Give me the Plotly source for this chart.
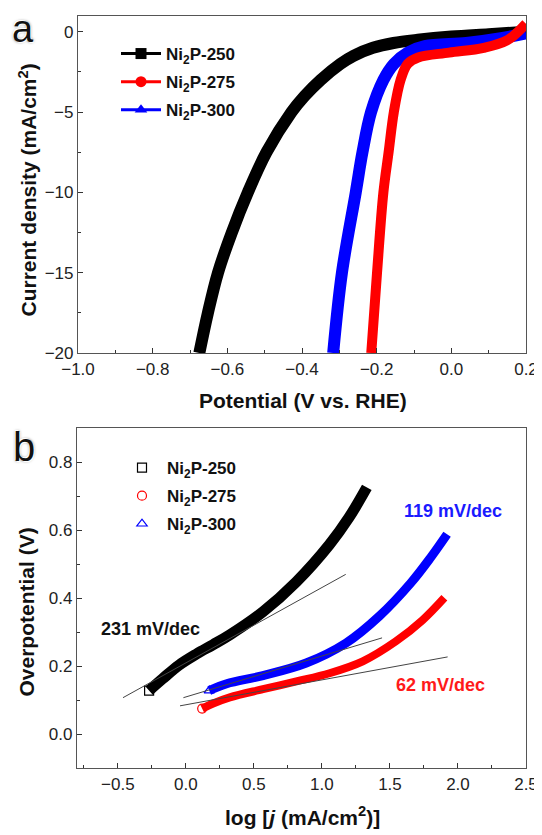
import plotly.graph_objects as go

# ---------- Panel a: polarization curves ----------
V250 = [-0.675, -0.652, -0.625, -0.588, -0.545, -0.495, -0.428, -0.393, -0.35, -0.297, -0.262, -0.21, -0.155, -0.09, 0.0, 0.1, 0.2]
J250 = [-20, -17.5, -15, -12.5, -10, -7.5, -5, -4, -3, -2, -1.5, -1.0, -0.7, -0.5, -0.3, -0.15, 0.0]

V275 = [-0.2145, -0.199, -0.182, -0.168, -0.154, -0.136, -0.117, -0.089, -0.006, 0.087, 0.152, 0.2]
J275 = [-20, -15, -10, -7.5, -5, -3, -2, -1.6, -1.3, -1.0, -0.5, 0.5]

V300 = [-0.3165, -0.293, -0.256, -0.238, -0.215, -0.182, -0.154, -0.117, -0.071, 0.04, 0.133, 0.2]
J300 = [-20, -15, -10, -7.5, -5, -3, -2, -1.3, -0.9, -0.7, -0.4, -0.1]

# ---------- Panel b: Tafel plots ----------
T250_x = [-0.27, -0.17, -0.05, 0.08, 0.2, 0.323, 0.567, 0.812, 1.056, 1.2, 1.33]
T250_y = [0.128, 0.163, 0.203, 0.236, 0.263, 0.292, 0.36, 0.448, 0.558, 0.638, 0.726]
T275_x = [0.12, 0.2, 0.323, 0.567, 0.812, 1.056, 1.3, 1.544, 1.739, 1.9]
T275_y = [0.075, 0.09, 0.108, 0.132, 0.155, 0.179, 0.214, 0.273, 0.335, 0.401]
T300_x = [0.172, 0.3, 0.567, 0.885, 1.178, 1.422, 1.654, 1.8, 1.92]
T300_y = [0.128, 0.148, 0.172, 0.209, 0.268, 0.347, 0.445, 0.52, 0.588]

F250_x = [-0.462, 1.175]
F250_y = [0.107, 0.47]
F275_x = [-0.043, 1.924]
F275_y = [0.083, 0.227]
F300_x = [-0.018, 1.442]
F300_y = [0.107, 0.283]

names = ["<b>Ni<sub>2</sub>P-250</b>", "<b>Ni<sub>2</sub>P-275</b>", "<b>Ni<sub>2</sub>P-300</b>"]
colors = ["#000000", "#ff0000", "#0000ff"]
sym_a = ["square", "circle", "triangle-up"]
sym_b = ["square-open", "circle-open", "triangle-up-open"]
FONT = "Arial, Liberation Sans, sans-serif"

# page has an 8px body margin: figure is sized to fit and positions given in page pixels
OFF = 8
W, H = 542 - OFF, 835 - OFF
def fx(p):
    return (p - OFF) / W
def fy(p):
    return 1 - (p - OFF) / H

fig = go.Figure()

# Panel a curves
for V, J, c, w in [(V250, J250, colors[0], 12), (V300, J300, colors[2], 12), (V275, J275, colors[1], 10)]:
    fig.add_trace(go.Scatter(x=V, y=J, mode="lines", line=dict(color=c, width=w, shape="spline", smoothing=1.0),
                             showlegend=False, xaxis="x", yaxis="y", hoverinfo="skip"))
for i, (n, c, s) in enumerate(zip(names, colors, sym_a)):
    fig.add_trace(go.Scatter(x=[None], y=[None], mode="lines+markers", name=n, legendgroup="a%d" % i,
                             line=dict(color=c, width=3), marker=dict(symbol=s, size=11, color=c),
                             xaxis="x", yaxis="y", legend="legend"))

# Panel b bands
for X, Y, c, w, s in [(T250_x, T250_y, colors[0], 11, sym_b[0]), (T300_x, T300_y, colors[2], 9, sym_b[2]),
                      (T275_x, T275_y, colors[1], 8, sym_b[1])]:
    fig.add_trace(go.Scatter(x=X, y=Y, mode="lines", line=dict(color=c, width=w, shape="spline", smoothing=1.0),
                             showlegend=False, xaxis="x2", yaxis="y2", hoverinfo="skip"))
    fig.add_trace(go.Scatter(x=X[:1], y=Y[:1], mode="markers", marker=dict(symbol=s, size=9, color=c, line=dict(width=1.2)),
                             showlegend=False, xaxis="x2", yaxis="y2", hoverinfo="skip"))
for X, Y in [(F250_x, F250_y), (F275_x, F275_y), (F300_x, F300_y)]:
    fig.add_trace(go.Scatter(x=X, y=Y, mode="lines", line=dict(color="#444444", width=1),
                             showlegend=False, xaxis="x2", yaxis="y2", hoverinfo="skip"))
for i, (n, c, s) in enumerate(zip(names, colors, sym_b)):
    fig.add_trace(go.Scatter(x=[None], y=[None], mode="markers", name=n, legendgroup="b%d" % i,
                             marker=dict(symbol=s, size=9, color=c, line=dict(width=1.2)),
                             xaxis="x2", yaxis="y2", legend="legend2"))

axcommon = dict(showline=True, linecolor="#555555", linewidth=1.2, mirror=True, ticks="inside",
                ticklen=5, tickcolor="#333333", tickwidth=1, showgrid=False, zeroline=False, automargin=False,
                tickfont=dict(family=FONT, size=17, color="#222222"))
minor = lambda d: dict(dtick=d, ticks="inside", ticklen=3, tickcolor="#333333")

fig.update_layout(
    width=W, height=H, margin=dict(l=0, r=0, t=0, b=0, autoexpand=False),
    paper_bgcolor="white", plot_bgcolor="white",
    font=dict(family=FONT, color="#111111"),
    xaxis=dict(domain=[fx(78), fx(526)], anchor="y", range=[-1.0, 0.2], dtick=0.2, tickformat=".1f",
               minor=minor(0.1), **axcommon),
    yaxis=dict(domain=[fy(353), fy(15.7)], anchor="x", range=[-20, 1.0], tickvals=[0, -5, -10, -15, -20],
               minor=minor(2.5), **axcommon),
    xaxis2=dict(domain=[fx(77), fx(526)], anchor="y2", range=[-0.8, 2.5], dtick=0.5, tickformat=".1f",
                minor=minor(0.25), **axcommon),
    yaxis2=dict(domain=[fy(768), fy(428.3)], anchor="x2", range=[-0.1, 0.9], tickvals=[0, 0.2, 0.4, 0.6, 0.8],
                tickformat=".1f", minor=minor(0.1), **axcommon),
    legend=dict(x=fx(116), y=fy(36), xanchor="left", yanchor="top", bgcolor="rgba(0,0,0,0)",
                font=dict(size=17, color="#111111", family=FONT), tracegroupgap=3, itemwidth=40),
    legend2=dict(x=fx(117), y=fy(450), xanchor="left", yanchor="top", bgcolor="rgba(0,0,0,0)",
                 font=dict(size=17, color="#111111", family=FONT), tracegroupgap=3, itemwidth=40),
)

ann = []
def pa(text, x, y, size=21, angle=0, color="#111111", shadow=None):
    f = dict(family=FONT, size=size, color=color)
    if shadow:
        f["shadow"] = shadow
    ann.append(dict(text=text, x=fx(x), y=fy(y), xref="paper", yref="paper", showarrow=False,
                    textangle=angle, font=f, xanchor="center", yanchor="middle"))

pa("<b>Potential (V vs. RHE)</b>", 303, 400.5)
pa("<b>Current density (mA/cm<sup>2</sup>)</b>", 27.5, 190, angle=-90)
pa("<b>log [<i>j</i> (mA/cm<sup>2</sup>)]</b>", 302, 816)
pa("<b>Overpotential (V)</b>", 26, 612.5, angle=-90)
sh = "-1px -1px 0 #ffffff, 1px 1px 0 #ffffff, 0 0 3px #666666"
pa("a", 22.5, 29, size=38, color="#111111", shadow=sh)
pa("b", 24, 447, size=40, color="#111111", shadow=sh)
fig.update_layout(annotations=ann)

fig.add_annotation(text="<b>231 mV/dec</b>", x=-0.263, y=0.309, xref="x2", yref="y2", showarrow=False,
                   font=dict(size=18, color="#111111", family=FONT))
fig.add_annotation(text="<b>119 mV/dec</b>", x=1.96, y=0.657, xref="x2", yref="y2", showarrow=False,
                   font=dict(size=18, color="#1a1aff", family=FONT))
fig.add_annotation(text="<b>62 mV/dec</b>", x=1.872, y=0.145, xref="x2", yref="y2", showarrow=False,
                   font=dict(size=18, color="#ff1a1a", family=FONT))

fig.write_html("out.html")
